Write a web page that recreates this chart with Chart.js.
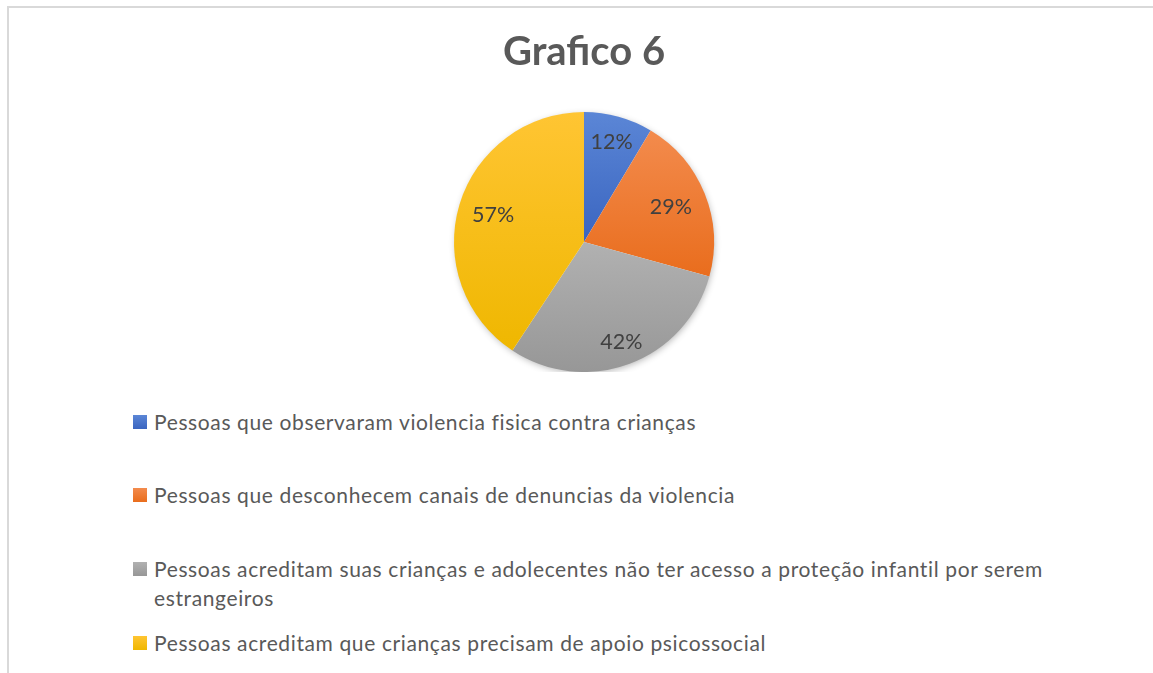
<!DOCTYPE html>
<html>
<head>
<meta charset="utf-8">
<script src="https://cdn.jsdelivr.net/npm/chart.js@4.4.1/dist/chart.umd.min.js"></script>
<style>
  html, body { margin: 0; padding: 0; background: #fff; }
  #wrap { position: relative; width: 1153px; height: 673px; overflow: hidden; background: #fff; font-family: Lato, "Open Sans", sans-serif; }
  #frame { position: absolute; left: 7px; top: 6px; width: 1160px; height: 700px; border-top: 2px solid #d9d9d9; border-left: 2px solid #d9d9d9; box-sizing: border-box; }
  #chartBox { position: absolute; left: 0; top: 0; width: 1153px; height: 372px; }
  #legend { position: absolute; left: 133px; top: 0; width: 930px; }
  .item { position: absolute; left: 0; width: 930px; display: flex; align-items: flex-start; }
  .mark { width: 14px; height: 14px; flex: 0 0 14px; margin-top: 8px; margin-right: 7px; }
  .txt { color: #595959; font-size: 21px; letter-spacing: 0.62px; font-variant-ligatures: none; line-height: 29px; width: 909px; }
</style>
</head>
<body>
<div id="wrap">
  <div id="frame"></div>
  <div id="chartBox"><canvas id="c"></canvas></div>
  <div id="legend"></div>
</div>
<script>
const titleText = "Grafico 6";
const categories = [
  "Pessoas que observaram violencia fisica contra crianças",
  "Pessoas que desconhecem canais de denuncias da violencia",
  "Pessoas acreditam suas crianças e adolecentes não ter acesso a proteção infantil por serem estrangeiros",
  "Pessoas acreditam que crianças precisam de apoio psicossocial"
];
const values = [12, 29, 42, 57];
const topColors = ["#5b86d6", "#f38b4d", "#b1b1b1", "#ffc533"];
const bottomColors = ["#3a65c0", "#e96d1d", "#979797", "#efb700"];
const baseColors = ["#4472c4", "#ed7d31", "#a5a5a5", "#ffc000"];
const labelRadius = [0.80, 0.72, 0.82, 0.73];

const gradientPlugin = {
  id: 'sliceGradient',
  beforeDatasetsDraw(chart) {
    const ctx = chart.ctx;
    const meta = chart.getDatasetMeta(0);
    meta.data.forEach((arc, i) => {
      const p = arc.getProps(['x', 'y', 'startAngle', 'endAngle', 'outerRadius'], true);
      let ymin = p.y, ymax = p.y;
      const n = 60;
      for (let k = 0; k <= n; k++) {
        const a = p.startAngle + (p.endAngle - p.startAngle) * k / n;
        const y = p.y + p.outerRadius * Math.sin(a);
        ymin = Math.min(ymin, y); ymax = Math.max(ymax, y);
      }
      const g = ctx.createLinearGradient(0, ymin, 0, ymax);
      g.addColorStop(0, topColors[i]);
      g.addColorStop(1, bottomColors[i]);
      arc.options.backgroundColor = g;
    });
    if (meta.data.length) {
      const p = meta.data[0].getProps(['x', 'y', 'outerRadius'], true);
      ctx.save();
      ctx.shadowColor = 'rgba(0,0,0,0.3)';
      ctx.shadowBlur = 7;
      ctx.shadowOffsetX = 1;
      ctx.shadowOffsetY = 2;
      ctx.fillStyle = '#ffffff';
      ctx.beginPath();
      ctx.arc(p.x, p.y, p.outerRadius - 1, 0, Math.PI * 2);
      ctx.fill();
      ctx.restore();
    }
  },
  afterDatasetsDraw(chart) {
    const ctx = chart.ctx;
    const meta = chart.getDatasetMeta(0);
    ctx.save();
    ctx.font = '21.5px Lato, "Open Sans", sans-serif';
    ctx.fillStyle = '#404040';
    ctx.textAlign = 'center';
    ctx.textBaseline = 'middle';
    meta.data.forEach((arc, i) => {
      const p = arc.getProps(['x', 'y', 'startAngle', 'endAngle', 'outerRadius'], true);
      const a = (p.startAngle + p.endAngle) / 2;
      const r = p.outerRadius * labelRadius[i];
      ctx.fillText(values[i] + '%', p.x + r * Math.cos(a), p.y + r * Math.sin(a));
    });
    ctx.restore();
  }
};

const chart = new Chart(document.getElementById('c'), {
  type: 'pie',
  data: {
    labels: categories,
    datasets: [{ data: values, backgroundColor: baseColors, borderWidth: 0, hoverOffset: 0 }]
  },
  options: {
    responsive: true,
    maintainAspectRatio: false,
    animation: false,
    layout: { padding: { left: 15, right: 0, top: 0, bottom: 0 } },
    plugins: {
      legend: { display: false },
      tooltip: { enabled: false },
      title: {
        display: true,
        text: titleText,
        color: '#595959',
        font: { family: 'Lato, "Open Sans", sans-serif', size: 40, weight: 'bold', lineHeight: 1.2 },
        padding: { top: 28, bottom: 36 }
      }
    }
  },
  plugins: [gradientPlugin]
});

const legendEl = document.getElementById('legend');
const rowCenters0 = 421, rowStep = 73.7;
categories.forEach((label, i) => {
  const item = document.createElement('div');
  item.className = 'item';
  item.style.top = (rowCenters0 + i * rowStep - 14.5) + 'px';
  const m = document.createElement('div');
  m.className = 'mark';
  m.style.background = 'linear-gradient(' + topColors[i] + ',' + bottomColors[i] + ')';
  const t = document.createElement('div');
  t.className = 'txt';
  t.textContent = label;
  item.appendChild(m);
  item.appendChild(t);
  legendEl.appendChild(item);
});
</script>
</body>
</html>
